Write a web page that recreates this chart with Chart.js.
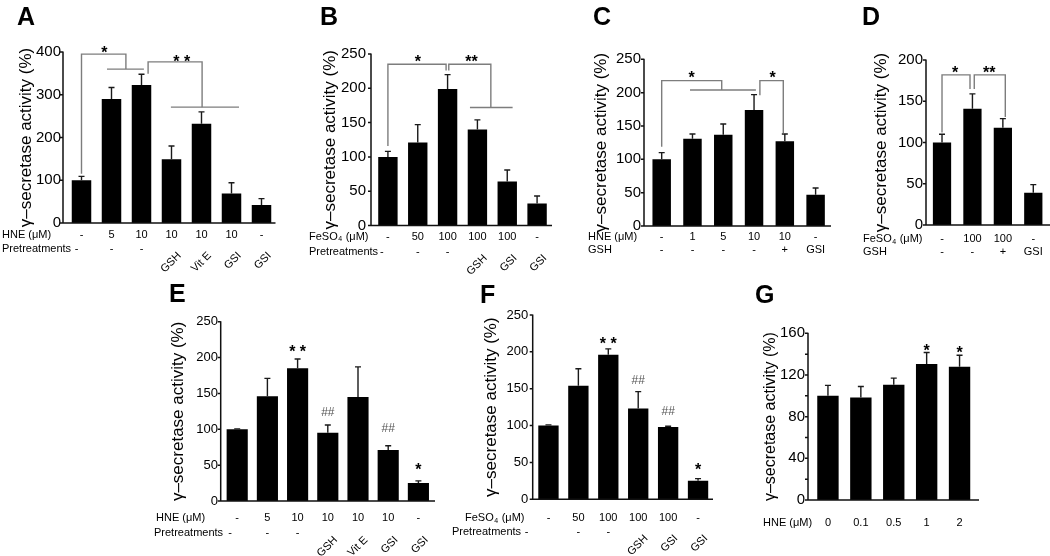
<!DOCTYPE html>
<html><head><meta charset="utf-8">
<script src="https://cdn.jsdelivr.net/npm/chart.js@4.4.0/dist/chart.umd.min.js"></script>
<style>
html,body{margin:0;padding:0;background:#fff;width:1050px;height:556px;overflow:hidden}
body{position:relative}
canvas{position:absolute}
</style></head><body>
<canvas id="cA"></canvas><canvas id="cB"></canvas><canvas id="cC"></canvas><canvas id="cD"></canvas>
<canvas id="cE"></canvas><canvas id="cF"></canvas><canvas id="cG"></canvas>
<script>
// ---------------- data ----------------
const yTitle = 'γ–secretase activity (%)';

const aRowName = ['HNE (μM)', 'Pretreatments'];
const aRow1 = ['-', '5', '10', '10', '10', '10', '-'];
const aRow2 = ['-', '-', '-', 'GSH', 'Vit E', 'GSI', 'GSI'];
const aValues = [100, 290, 323, 149, 232, 69, 42];
const aErrors = [9, 27, 25, 31, 28, 25, 15];
const aTicks = [0, 100, 200, 300, 400];

const bRowName = ['FeSO4 (μM)', 'Pretreatments'];
const bRow1 = ['-', '50', '100', '100', '100', '-'];
const bRow2 = ['-', '-', '-', 'GSH', 'GSI', 'GSI'];
const bValues = [100, 121, 199, 140, 64, 32];
const bErrors = [8, 26, 21, 14, 17, 11];
const bTicks = [0, 50, 100, 150, 200, 250];

const cRowName = ['HNE (μM)', 'GSH'];
const cRow1 = ['-', '1', '5', '10', '10', '-'];
const cRow2 = ['-', '-', '-', '-', '+', 'GSI'];
const cValues = [100, 131, 137, 174, 127, 47];
const cErrors = [10, 7, 16, 23, 11, 10];
const cTicks = [0, 50, 100, 150, 200, 250];

const dRowName = ['FeSO4 (μM)', 'GSH'];
const dRow1 = ['-', '100', '100', '-'];
const dRow2 = ['-', '-', '+', 'GSI'];
const dValues = [100, 141, 118, 39];
const dErrors = [10, 18, 11, 10];
const dTicks = [0, 50, 100, 150, 200];

const eRowName = ['HNE (μM)', 'Pretreatments'];
const eRow1 = ['-', '5', '10', '10', '10', '10', '-'];
const eRow2 = ['-', '-', '-', 'GSH', 'Vit E', 'GSI', 'GSI'];
const eValues = [100, 146, 185, 95, 145, 71, 25];
const eErrors = [0.6, 25, 13, 11, 42, 6, 3];
const eTicks = [0, 50, 100, 150, 200, 250];

const fRowName = ['FeSO4 (μM)', 'Pretreatments'];
const fRow1 = ['-', '50', '100', '100', '100', '-'];
const fRow2 = ['-', '-', '-', 'GSH', 'GSI', 'GSI'];
const fValues = [100, 154, 196, 123, 98, 25];
const fErrors = [1, 23, 8, 23, 1, 3];
const fTicks = [0, 50, 100, 150, 200, 250];

const gRowName = ['HNE (μM)'];
const gRow1 = ['0', '0.1', '0.5', '1', '2'];
const gValues = [100, 98.5, 110.5, 130.5, 128];
const gErrors = [10, 10.5, 6.5, 11, 11];
const gTicks = [0, 20, 40, 60, 80, 100, 120, 140, 160];

// significance annotations (category index, value)
const aBrackets = [
  [[0,115],[0,395],[1.48,395],[1.48,360]], [[0.85,360],[2.08,360]],
  [[2.22,349],[2.22,377],[4.02,377],[4.02,271]], [[2.98,271],[5.25,271]]
];
const aMarks = [{i:0.76, v:406, t:'*'}, {i:3.34, v:385, t:'* *'}];
const bBrackets = [
  [[0,116],[0,235],[1.95,235],[1.95,226]],
  [[2.04,226],[2.04,235],[3.45,235],[3.45,172]], [[2.75,172],[4.18,172]]
];
const bMarks = [{i:1.0, v:243, t:'*'}, {i:2.8, v:243, t:'**'}];
const cBrackets = [
  [[0,119],[0,218],[1.95,218],[1.95,204]], [[0.92,204],[3.06,204]],
  [[3.19,196],[3.19,218],[3.95,218],[3.95,139]]
];
const cMarks = [{i:0.97, v:227, t:'*'}, {i:3.6, v:227, t:'*'}];
const dBrackets = [
  [[0,112],[0,182],[0.92,182],[0.92,165]],
  [[1.06,165],[1.06,182],[2.08,182],[2.08,131]]
];
const dMarks = [{i:0.43, v:188, t:'*'}, {i:1.55, v:188, t:'**'}];
const eMarks = [{i:2, v:212, t:'* *'}, {i:3, v:124.5, t:'##'}, {i:5, v:102, t:'##'}, {i:6, v:47.8, t:'*'}];
const fMarks = [{i:2, v:216, t:'* *'}, {i:3, v:163, t:'##'}, {i:4, v:121, t:'##'}, {i:5, v:44, t:'*'}];
const gMarks = [{i:3, v:146, t:'*'}, {i:4, v:144, t:'*'}];

// ---------------- layout ----------------
const FONT = '"Liberation Sans", Arial, Helvetica, sans-serif';
const panels = [
  {id:'cA', letter:'A', lx:17, ly:25, x:0, y:0, w:290, h:280, ca:{l:66.5, r:276.5, t:52, b:223}, axisX:63, axisEnd:275.5,
   labelRight:61, titleX:26, tickSize:15, titleSize:17, barPct:0.65,
   rowName:aRowName, row1:aRow1, row2:aRow2, rowY:[234.5,249], rowX:[2,2], rotate:true, firstDx:-5,
   values:aValues, errors:aErrors, ticks:aTicks, brackets:aBrackets, marks:aMarks},
  {id:'cB', letter:'B', lx:320, ly:25, x:290, y:0, w:270, h:280, ca:{l:373, r:552, t:54, b:225.5}, axisX:371, axisEnd:552,
   labelRight:366, titleX:330, tickSize:15, titleSize:17, barPct:0.65,
   rowName:bRowName, row1:bRow1, row2:bRow2, rowY:[236.5,251.5], rowX:[309,309], rotate:true, firstDx:-6,
   values:bValues, errors:bErrors, ticks:bTicks, brackets:bBrackets, marks:bMarks},
  {id:'cC', letter:'C', lx:593, ly:25, x:560, y:0, w:280, h:280, ca:{l:646.3, r:831, t:59.3, b:226}, axisX:644, axisEnd:831,
   labelRight:641, titleX:601, tickSize:15, titleSize:17, barPct:0.6,
   rowName:cRowName, row1:cRow1, row2:cRow2, rowY:[236.7,249.5], rowX:[588,588], rotate:false, firstDx:0,
   values:cValues, errors:cErrors, ticks:cTicks, brackets:cBrackets, marks:cMarks},
  {id:'cD', letter:'D', lx:862, ly:25, x:840, y:0, w:210, h:280, ca:{l:926.8, r:1048.5, t:60, b:225}, axisX:926, axisEnd:1050,
   labelRight:923, titleX:881, tickSize:15, titleSize:17, barPct:0.6,
   rowName:dRowName, row1:dRow1, row2:dRow2, rowY:[239.3,251.7], rowX:[863,863], rotate:false, firstDx:0,
   values:dValues, errors:dErrors, ticks:dTicks, brackets:dBrackets, marks:dMarks},
  {id:'cE', letter:'E', lx:169, ly:302, x:140, y:270, w:300, h:286, ca:{l:222.1, r:433.5, t:321.7, b:501}, axisX:220.7, axisEnd:435,
   labelRight:218, titleX:178, tickSize:13, titleSize:17, barPct:0.7,
   rowName:eRowName, row1:eRow1, row2:eRow2, rowY:[518.3,533.3], rowX:[156,154], rotate:true, firstDx:-7,
   values:eValues, errors:eErrors, ticks:eTicks, brackets:[], marks:eMarks},
  {id:'cF', letter:'F', lx:480, ly:303, x:440, y:270, w:290, h:286, ca:{l:533.5, r:713, t:315, b:499.3}, axisX:532.7, axisEnd:713,
   labelRight:528.3, titleX:491.5, tickSize:13, titleSize:17, barPct:0.68,
   rowName:fRowName, row1:fRow1, row2:fRow2, rowY:[518.3,531.7], rowX:[465,452], rotate:true, firstDx:-22,
   values:fValues, errors:fErrors, ticks:fTicks, brackets:[], marks:fMarks},
  {id:'cG', letter:'G', lx:755, ly:303, x:730, y:270, w:320, h:286, ca:{l:811.5, r:976, t:333.3, b:500}, axisX:808, axisEnd:979,
   labelRight:805, titleX:771, tickSize:15, titleSize:16, barPct:0.65,
   rowName:gRowName, row1:gRow1, row2:null, rowY:[523.3], rowX:[763], rotate:false, firstDx:0,
   values:gValues, errors:gErrors, ticks:gTicks, brackets:[], marks:gMarks}
];

function drawRowName(ctx, text, x, y) {
  // handles the subscript in FeSO4
  ctx.textAlign = 'left'; ctx.textBaseline = 'middle';
  const k = text.indexOf('SO4');
  if (k < 0) { ctx.fillText(text, x, y); return; }
  const pre = text.slice(0, k + 2), sub = '4', post = text.slice(k + 3);
  ctx.font = '11px ' + FONT;
  ctx.fillText(pre, x, y);
  let cx = x + ctx.measureText(pre).width;
  ctx.font = '7px ' + FONT;
  ctx.fillText(sub, cx + 0.5, y + 3);
  cx += ctx.measureText(sub).width + 1;
  ctx.font = '11px ' + FONT;
  ctx.fillText(post, cx, y);
}

function centeredText(ctx, text, x, cy) {
  const m = ctx.measureText(text);
  ctx.textAlign = 'center'; ctx.textBaseline = 'alphabetic';
  ctx.fillText(text, x, cy + (m.actualBoundingBoxAscent - m.actualBoundingBoxDescent) / 2);
}

function figPlugin(p) {
  return {
    id: 'fig_' + p.id,
    afterDatasetsDraw(chart) {
      const ctx = chart.ctx, xs = chart.scales.x, ys = chart.scales.y;
      const ca = chart.chartArea;
      const ox = p.x, oy = p.y;
      const meta = chart.getDatasetMeta(0);
      ctx.save();
      // error bars
      ctx.strokeStyle = '#1a1a1a'; ctx.lineWidth = 1.4;
      meta.data.forEach((bar, i) => {
        const e = p.errors[i]; if (!e) return;
        const yt = ys.getPixelForValue(p.values[i] + e), yb = ys.getPixelForValue(p.values[i]);
        ctx.beginPath();
        ctx.moveTo(bar.x, yb); ctx.lineTo(bar.x, yt);
        ctx.moveTo(bar.x - 3, yt); ctx.lineTo(bar.x + 3, yt);
        ctx.stroke();
      });
      // axes
      const ax = p.axisX - ox;
      ctx.strokeStyle = '#111'; ctx.lineWidth = 1.5;
      ctx.beginPath();
      ctx.moveTo(ax, ca.top - 0.5); ctx.lineTo(ax, ca.bottom); ctx.lineTo(p.axisEnd - ox, ca.bottom);
      p.ticks.forEach(v => { const y = ys.getPixelForValue(v); ctx.moveTo(ax - 3, y); ctx.lineTo(ax, y); });
      ctx.stroke();
      // brackets
      ctx.strokeStyle = '#7d7d7d'; ctx.lineWidth = 1.4;
      p.brackets.forEach(pts => {
        ctx.beginPath();
        pts.forEach((pt, k) => {
          const X = xs.getPixelForValue(pt[0]), Y = ys.getPixelForValue(pt[1]);
          if (k === 0) ctx.moveTo(X, Y); else ctx.lineTo(X, Y);
        });
        ctx.stroke();
      });
      // marks
      p.marks.forEach(m => {
        const X = xs.getPixelForValue(m.i), Y = ys.getPixelForValue(m.v);
        if (m.t.indexOf('#') >= 0) { ctx.font = '12px ' + FONT; ctx.fillStyle = '#555'; }
        else { ctx.font = 'bold 16px ' + FONT; ctx.fillStyle = '#000'; }
        centeredText(ctx, m.t, X, Y);
      });
      // panel letter
      ctx.fillStyle = '#000'; ctx.font = 'bold 25px ' + FONT;
      ctx.textAlign = 'left'; ctx.textBaseline = 'alphabetic';
      ctx.fillText(p.letter, p.lx - ox, p.ly - oy);
      // category rows
      ctx.fillStyle = '#000'; ctx.font = '11px ' + FONT;
      p.rowName.forEach((n, r) => { ctx.font = '11px ' + FONT; drawRowName(ctx, n, p.rowX[r] - ox, p.rowY[r] - oy); });
      ctx.font = '11px ' + FONT;
      p.row1.forEach((t, i) => {
        ctx.textAlign = 'center'; ctx.textBaseline = 'middle';
        ctx.fillText(t, xs.getPixelForValue(i), p.rowY[0] - oy);
      });
      if (p.row2) {
        p.row2.forEach((t, i) => {
          const X = xs.getPixelForValue(i), Y = p.rowY[1] - oy;
          if (p.rotate && t !== '-' && t !== '+') {
            ctx.save();
            ctx.translate(X + 8, Y + 5); ctx.rotate(-Math.PI / 4);
            ctx.textAlign = 'right'; ctx.textBaseline = 'middle';
            ctx.fillText(t, 0, 0);
            ctx.restore();
          } else {
            ctx.textAlign = 'center'; ctx.textBaseline = 'middle';
            ctx.fillText(t, X + (i === 0 ? p.firstDx : 0), Y);
          }
        });
      }
      ctx.restore();
    }
  };
}

panels.forEach(p => {
  const cv = document.getElementById(p.id);
  cv.width = p.w; cv.height = p.h;
  cv.style.left = p.x + 'px'; cv.style.top = p.y + 'px';
  cv.style.width = p.w + 'px'; cv.style.height = p.h + 'px';
  const yW = p.ca.l - p.x;
  const labels = p.row1.map((c, i) => p.row2 ? c + ' / ' + p.row2[i] : c);
  new Chart(cv, {
    type: 'bar',
    data: { labels: labels, datasets: [{ data: p.values, backgroundColor: '#000', borderWidth: 0,
      barPercentage: p.barPct, categoryPercentage: 1 }] },
    options: {
      responsive: false, animation: false, devicePixelRatio: 1,
      layout: { padding: { left: 0, top: p.ca.t - p.y, right: p.x + p.w - p.ca.r, bottom: p.y + p.h - p.ca.b } },
      plugins: { legend: { display: false }, tooltip: { enabled: false } },
      scales: {
        x: { type: 'category', display: false, offset: true, grid: { display: false } },
        y: {
          min: p.ticks[0], max: p.ticks[p.ticks.length - 1],
          border: { display: false },
          grid: { display: false, drawTicks: false },
          afterBuildTicks: s => { s.ticks = p.ticks.map(v => ({ value: v })); },
          afterFit: s => { s.width = yW; },
          ticks: { padding: p.ca.l - p.labelRight, color: '#000', font: { family: FONT, size: p.tickSize },
                   callback: v => String(v) },
          title: { display: true, text: yTitle, color: '#000', font: { family: FONT, size: p.titleSize },
                   padding: { top: p.titleX - p.x - p.titleSize * 0.6, bottom: 0 } }
        }
      }
    },
    plugins: [figPlugin(p)]
  });
});
</script>
</body></html>
